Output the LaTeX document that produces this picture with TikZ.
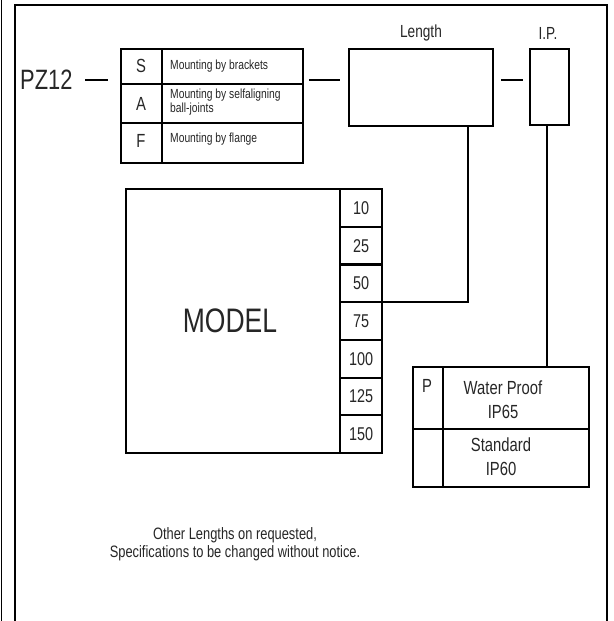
\documentclass[tikz,border=0pt]{standalone}
\usepackage{fontspec}
\setmainfont{Liberation Sans}[FakeStretch=0.78]
\begin{document}
\begin{tikzpicture}[x=1pt,y=-1pt,
  frame/.style={line width=2.2pt,black},
  box/.style={draw,line width=2.2pt},
  conn/.style={line width=1.7pt},
  lbl/.style={inner sep=0pt,text=black!85},
]
\useasboundingbox (0,0) rectangle (613,621);
% outer frame
\draw[line width=1.8pt] (1.5,0) -- (1.5,621);
\draw[frame] (15,621) -- (15,5) -- (607,5) -- (607,621);

% PZ12
\node[lbl,anchor=west,font=\fontsize{28}{28}\selectfont] (pz) at (20,80) {PZ12};
\coordinate (d1a) at (85,80); \coordinate (d1b) at (108,80);
\draw[conn] (d1a) -- (d1b);

% S/A/F table
\node[box,minimum width=182pt,minimum height=114pt,anchor=north west,inner sep=0pt] (saf) at (120,48) {};
\draw[line width=2.2pt] (162,48) -- (162,162);
\draw[line width=2.2pt] (120,84) -- (302,84);
\draw[line width=2.2pt] (120,123) -- (302,123);
\node[lbl,font=\fontsize{19}{19}\selectfont] (s) at (141,66) {S};
\node[lbl,font=\fontsize{19}{19}\selectfont] (a) at (141,104) {A};
\node[lbl,font=\fontsize{19}{19}\selectfont] (f) at (141,141) {F};
\node[lbl,anchor=west,font=\fontsize{13.2}{13}\selectfont] (st) at (170,66) {Mounting by brackets};
\node[lbl,anchor=west,align=left,font=\fontsize{13.2}{12}\selectfont] (at) at (170,102) {Mounting by selfaligning\\ball-joints};
\node[lbl,anchor=west,font=\fontsize{13.2}{13}\selectfont] (ft) at (170,139) {Mounting by flange};

\coordinate (d2a) at (309,80); \coordinate (d2b) at (340,80);
\draw[conn] (d2a) -- (d2b);

% Length box
\node[box,minimum width=144pt,minimum height=77pt,anchor=north west,inner sep=0pt] (len) at (348,48) {};
\node[lbl,font=\fontsize{17.5}{17}\selectfont] (lenlab) at (421,33) {Length};

\coordinate (d3a) at (501,80); \coordinate (d3b) at (523,80);
\draw[conn] (d3a) -- (d3b);

% I.P. box
\node[box,minimum width=39pt,minimum height=76pt,anchor=north west,inner sep=0pt] (ip) at (529,48) {};
\node[lbl,font=\fontsize{17.5}{17}\selectfont] (iplab) at (548,33) {I.P.};

% MODEL box
\node[box,minimum width=214pt,minimum height=264pt,anchor=north west,inner sep=0pt] (model) at (125,188) {};
\node[lbl,font=\fontsize{34}{34}\selectfont] (modlab) at (230,321) {MODEL};
\foreach \v [count=\i] in {10,25,50,75,100,125,150}{
  \node[box,minimum width=42pt,minimum height=37.7pt,anchor=north west,inner sep=0pt] (n\i) at (339,{188+(\i-1)*37.7}) {};
  \node[lbl,font=\fontsize{18.5}{18}\selectfont] at (n\i) {\v};
}
\coordinate (c50) at (381,302);
\coordinate (cturn) at (468,302);
\draw[conn] (c50) -- (cturn) -- (len.south -| cturn);

% P table
\node[box,minimum width=176pt,minimum height=120pt,anchor=north west,inner sep=0pt] (pt) at (412,366) {};
\draw[line width=2.2pt] (443,366) -- (443,486);
\draw[line width=2.2pt] (412,429) -- (588,429);
\node[lbl,font=\fontsize{19}{19}\selectfont] (p) at (427,386) {P};
\node[lbl,align=center,font=\fontsize{19}{24}\selectfont] (wp) at (503,400) {Water Proof\\IP65};
\node[lbl,align=center,font=\fontsize{19}{24}\selectfont] (sd) at (501,457) {Standard\\IP60};
\draw[conn] (ip.south -| 547,0) -- (pt.north -| 547,0);

% notes
\node[lbl,align=center,font=\fontsize{16.5}{17.5}\selectfont] (note) at (235,544) {Other Lengths on requested,\\Specifications to be changed without notice.};
\end{tikzpicture}
\end{document}
